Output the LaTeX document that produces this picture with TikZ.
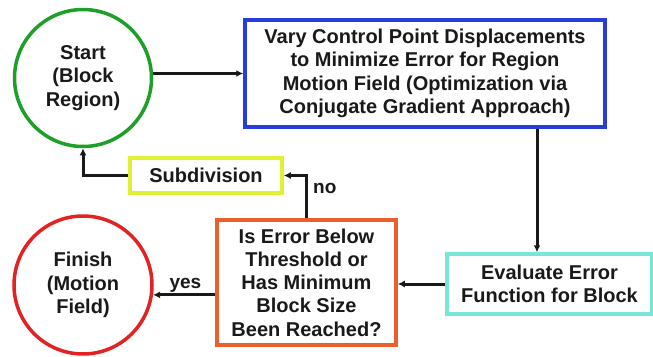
\documentclass[tikz,border=0pt]{standalone}
\usepackage{fontspec}
\setmainfont{Liberation Sans}
\usetikzlibrary{arrows.meta}
\definecolor{startgreen}{RGB}{30,160,40}
\definecolor{varyblue}{RGB}{40,60,220}
\definecolor{evalcyan}{RGB}{120,230,215}
\definecolor{decorange}{RGB}{235,95,45}
\definecolor{subyellow}{RGB}{225,240,50}
\definecolor{finred}{RGB}{225,35,35}
\definecolor{ink}{RGB}{25,25,25}
\tikzset{
  txt/.style={font=\bfseries\fontsize{20}{23.3}\selectfont, text=ink, align=center, inner sep=0pt},
  roundnode/.style={txt, circle, line width=3.5pt},
  boxnode/.style={txt, rectangle, line width=3.5pt},
  arr/.style={line width=3pt, draw=ink, -{Latex[length=7pt,width=7pt]}},
  lbl/.style={font=\bfseries\fontsize{19}{22}\selectfont, text=ink, inner sep=1pt}
}
\begin{document}
\begin{tikzpicture}[x=1pt,y=-1pt]
\useasboundingbox (0,0) rectangle (653,356);
% shapes
\node[roundnode, draw=startgreen, minimum size=137pt] (start) at (83,78) {Start\\(Block\\Region)};
\node[boxnode, draw=varyblue, minimum width=360pt, minimum height=107pt] (vary) at (425,73.5)
  {Vary Control Point Displacements\\to Minimize Error for Region\\Motion Field (Optimization via\\Conjugate Gradient Approach)};
\node[boxnode, draw=evalcyan, minimum width=205pt, minimum height=60pt] (eval) at (549.5,284)
  {Evaluate Error\\Function for Block};
\node[boxnode, draw=decorange, minimum width=179pt, minimum height=125pt] (dec) at (306.5,282.5)
  {Is Error Below\\Threshold or\\Has Minimum\\Block Size\\Been Reached?};
\node[boxnode, draw=subyellow, minimum width=152pt, minimum height=35pt] (sub) at (206,175.5) {Subdivision};
\node[roundnode, draw=finred, minimum size=138pt] (fin) at (83,285) {Finish\\(Motion\\Field)};
% connectors
\coordinate (downtop) at ([xshift=112pt]vary.south);
\draw[arr] (start.east |- vary.west) -- (vary.west);
\draw[arr] (downtop) -- (downtop |- eval.north);
\draw[arr] (eval.west) -- (eval.west -| dec.east);
\draw[arr] (dec.west |- fin.352) -- node[lbl, above, pos=0.48] {yes} (fin.352);
\draw[arr] (dec.north) |- (sub.east);
\node[lbl, anchor=west] (nolbl) at (312,188) {no};
\draw[arr] (sub.west) -| (start.south);
\end{tikzpicture}
\end{document}
